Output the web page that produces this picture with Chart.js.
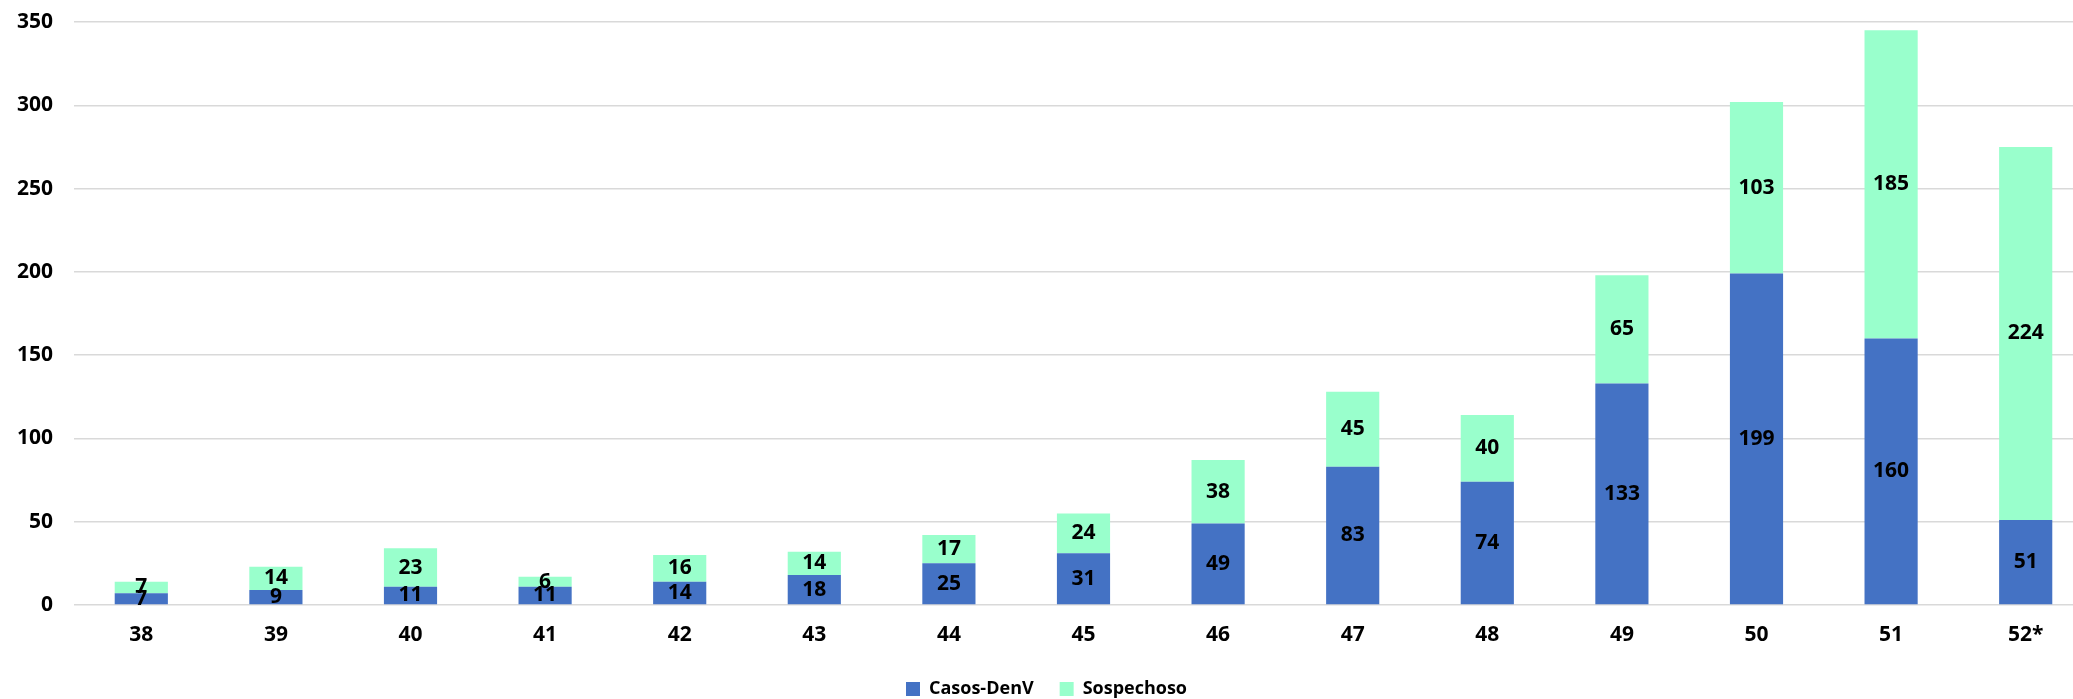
<!DOCTYPE html>
<html lang="es">
<head>
  <meta charset="UTF-8" />
  <title>Casos DenV por semana</title>
  <script src="https://cdn.jsdelivr.net/npm/chart.js"></script>
  <style>
    html, body { margin: 0; padding: 0; background: #fff; overflow: hidden; }
    #frame { width: 2073px; height: 699px; overflow: hidden; }
    #box { width: 2100px; height: 708px; position: relative; }
  </style>
</head>
<body>
  <div id="frame">
    <div id="box"><canvas id="chart"></canvas></div>
  </div>

  <script>
    // Data
    const weeks = ['38', '39', '40', '41', '42', '43', '44', '45', '46', '47', '48', '49', '50', '51', '52*'];
    const casosDenV = [7, 9, 11, 11, 14, 18, 25, 31, 49, 83, 74, 133, 199, 160, 51];
    const sospechoso = [7, 14, 23, 6, 16, 14, 17, 24, 38, 45, 40, 65, 103, 185, 224];
    const yTicks = [0, 50, 100, 150, 200, 250, 300, 350];

    const tickFont = { family: 'Open Sans', size: 21, weight: 'bold' };

    // value labels in the middle of each bar segment
    const barLabels = {
      id: 'barLabels',
      afterDatasetsDraw(chart) {
        const ctx = chart.ctx;
        ctx.save();
        ctx.font = 'bold 21px "Open Sans"';
        ctx.fillStyle = '#000';
        ctx.textAlign = 'center';
        ctx.textBaseline = 'middle';
        chart.data.datasets.forEach((ds, i) => {
          const meta = chart.getDatasetMeta(i);
          meta.data.forEach((bar, j) => {
            const y = (bar.y + bar.base) / 2;
            ctx.fillText(String(ds.data[j]), bar.x, y);
          });
        });
        ctx.restore();
      }
    };

    const ctx = document.getElementById('chart').getContext('2d');
    new Chart(ctx, {
      type: 'bar',
      data: {
        labels: weeks,
        datasets: [
          {
            label: 'Casos-DenV',
            data: casosDenV,
            backgroundColor: '#4472C4',
            barPercentage: 0.395,
            categoryPercentage: 1
          },
          {
            label: 'Sospechoso',
            data: sospechoso,
            backgroundColor: '#99FFCC',
            barPercentage: 0.395,
            categoryPercentage: 1
          }
        ]
      },
      options: {
        responsive: true,
        maintainAspectRatio: false,
        animation: false,
        layout: { padding: { top: 22, right: 7, left: 0, bottom: 0 } },
        plugins: {
          legend: {
            position: 'bottom',
            labels: {
              boxWidth: 14,
              boxHeight: 14,
              padding: 26,
              color: '#000',
              font: { family: 'Open Sans', size: 18, weight: 'bold' }
            }
          },
          tooltip: { enabled: false }
        },
        scales: {
          x: {
            stacked: true,
            grid: { display: false },
            border: { display: false },
            ticks: { color: '#000', font: tickFont, padding: 9, maxRotation: 0 },
            afterFit(axis) { axis.height = 49; }
          },
          y: {
            stacked: true,
            min: 0,
            max: 350,
            grid: { color: '#d9d9d9', lineWidth: 1.5, drawTicks: false },
            border: { display: false },
            afterBuildTicks(axis) { axis.ticks = yTicks.map(v => ({ value: v })); },
            ticks: { color: '#000', font: tickFont, padding: 21 },
            afterFit(axis) {
              axis.width = 74;
              axis.paddingTop = 0;
              axis.paddingBottom = 0;
            }
          }
        }
      },
      plugins: [barLabels]
    });
  </script>
</body>
</html>
